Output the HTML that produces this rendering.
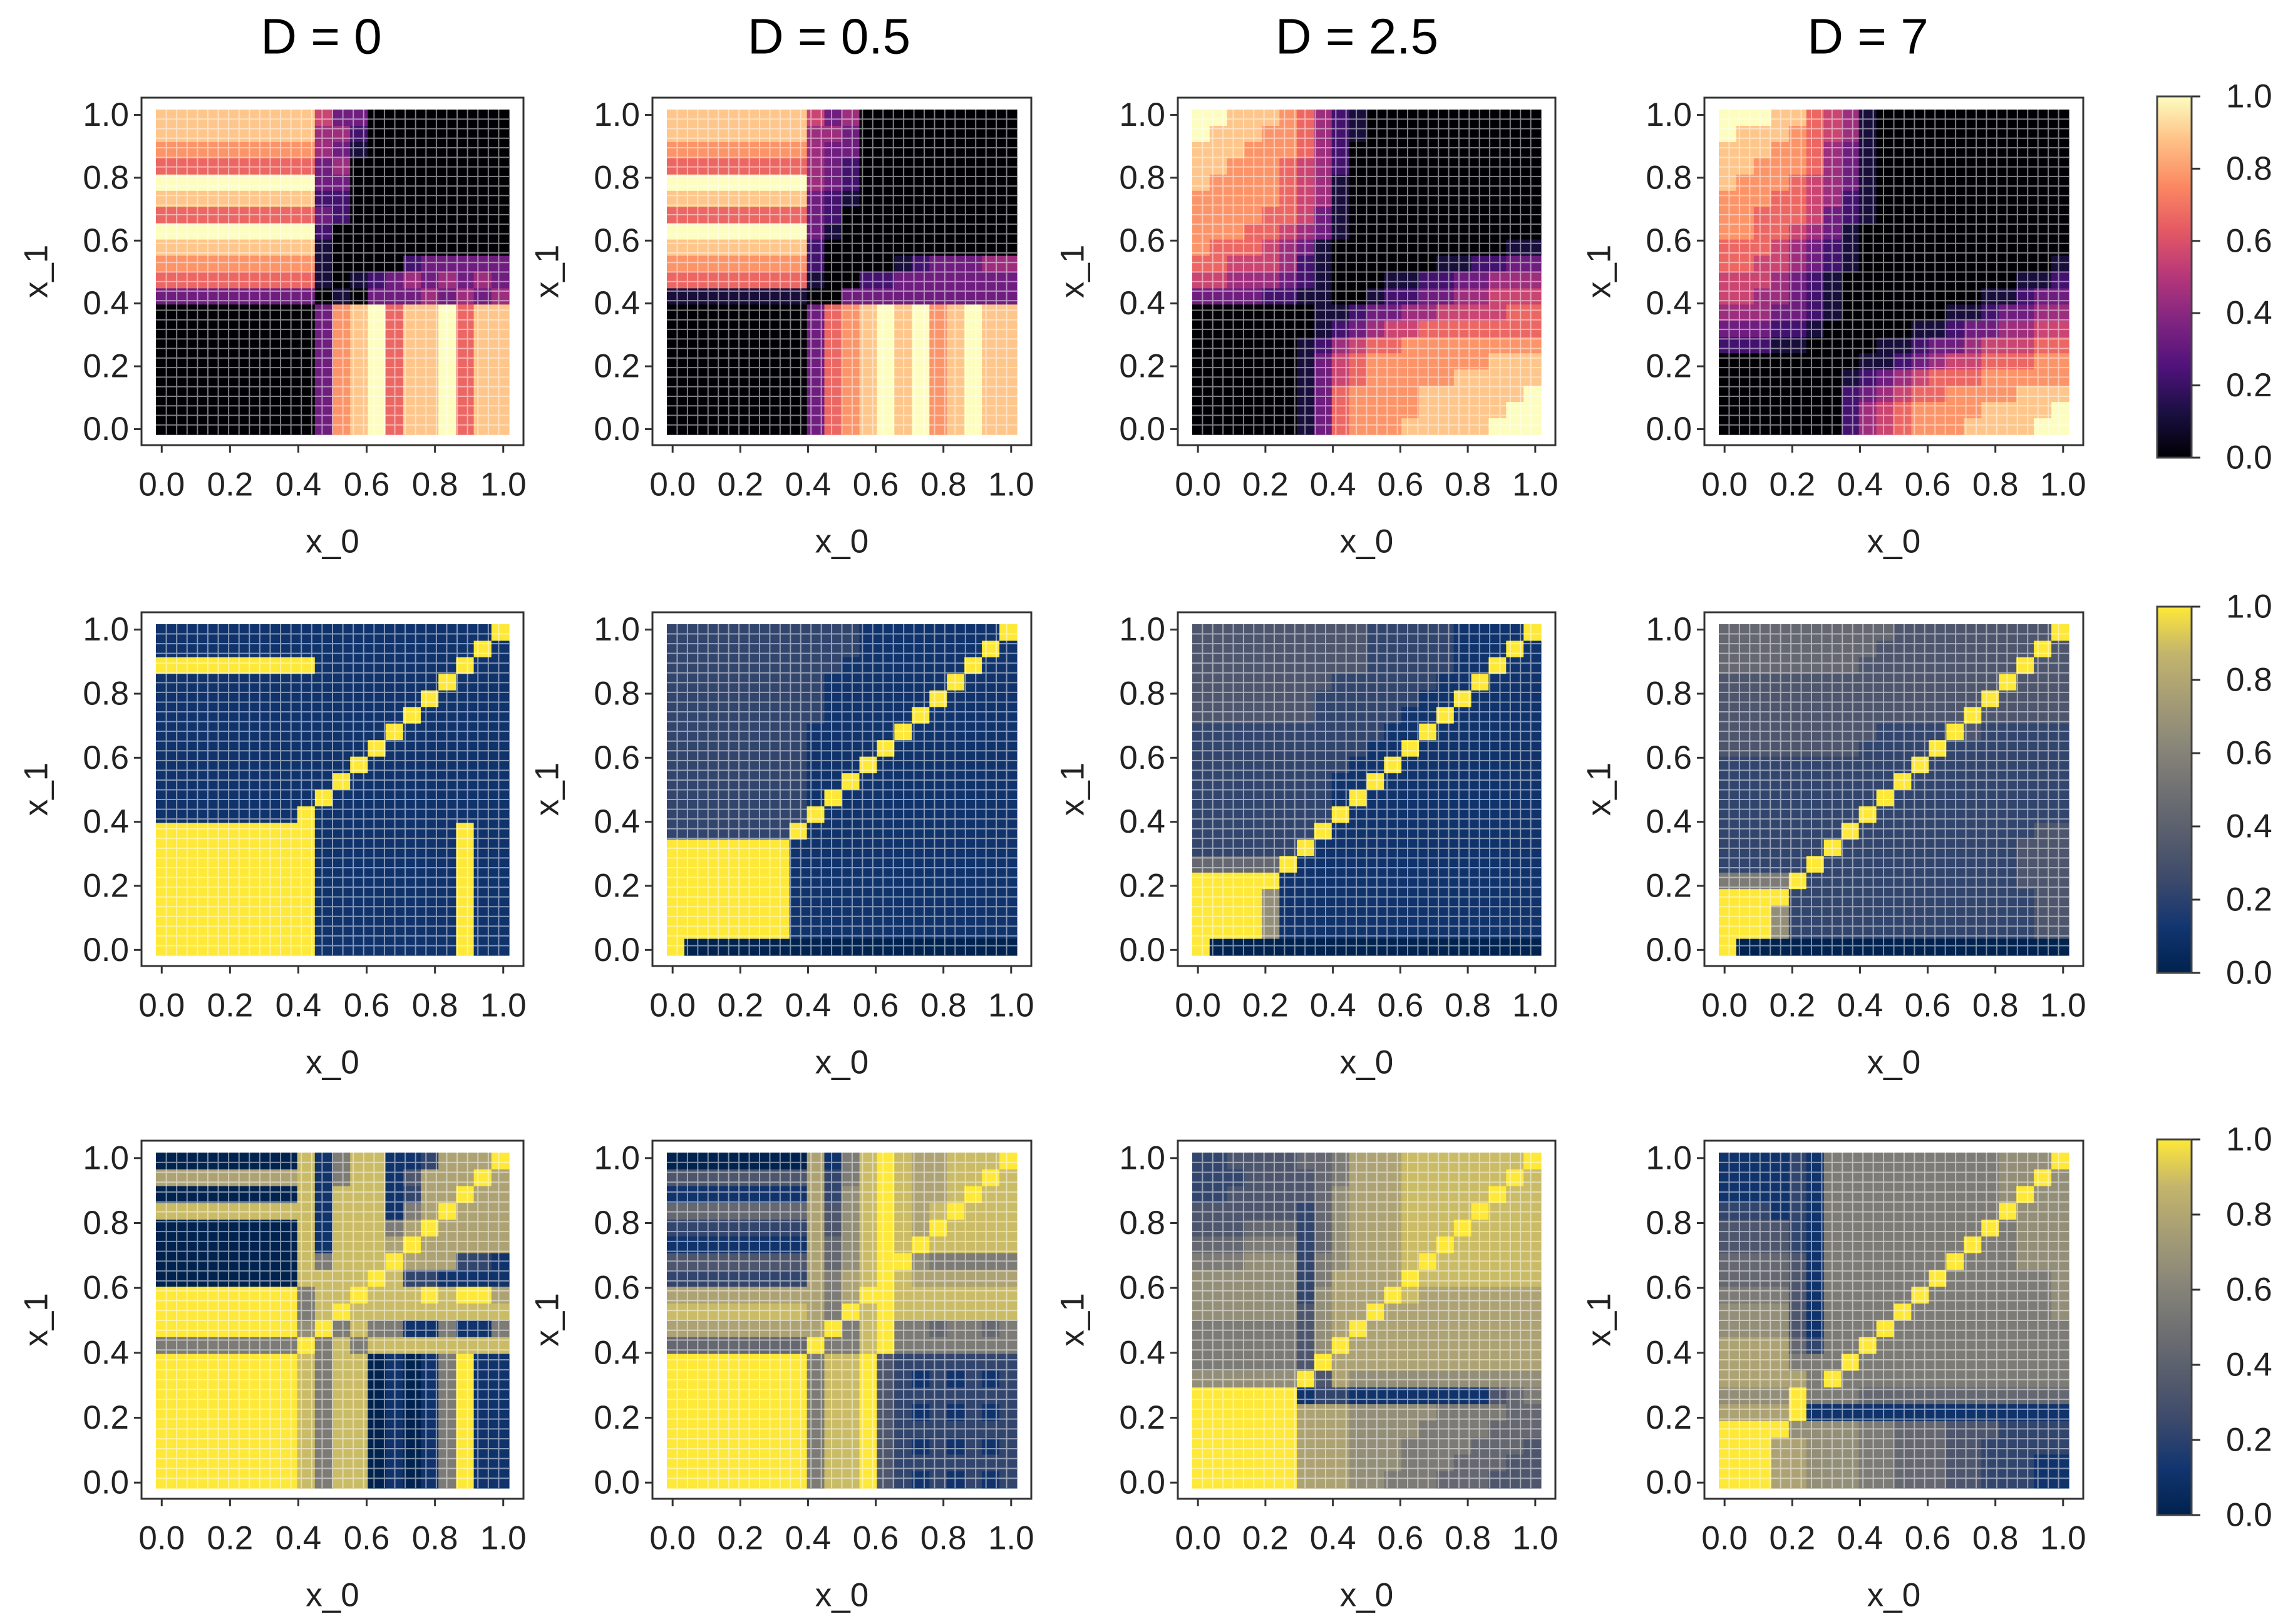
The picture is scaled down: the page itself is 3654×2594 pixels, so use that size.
<!DOCTYPE html>
<html>
<head>
<meta charset="utf-8">
<style>
html,body{margin:0;padding:0;background:#fff;}
svg{display:block;font-family:"Liberation Sans",Arial,sans-serif;}
</style>
</head>
<body>
<svg id="fig" xmlns="http://www.w3.org/2000/svg" width="3654" height="2594" viewBox="0 0 3654 2594">
<defs>
<linearGradient id="magmaGrad" x1="0" y1="1" x2="0" y2="0">
<stop offset="0" stop-color="#000004"/><stop offset="0.13" stop-color="#1c1044"/><stop offset="0.25" stop-color="#4f127b"/><stop offset="0.38" stop-color="#812581"/><stop offset="0.5" stop-color="#b5367a"/><stop offset="0.63" stop-color="#e55964"/><stop offset="0.75" stop-color="#fb8761"/><stop offset="0.88" stop-color="#fec287"/><stop offset="1" stop-color="#fcfdbf"/>
</linearGradient>
<linearGradient id="cividisGrad" x1="0" y1="1" x2="0" y2="0">
<stop offset="0" stop-color="#00224e"/><stop offset="0.125" stop-color="#123570"/><stop offset="0.25" stop-color="#3b496c"/><stop offset="0.375" stop-color="#575d6d"/><stop offset="0.5" stop-color="#707173"/><stop offset="0.625" stop-color="#8a8779"/><stop offset="0.75" stop-color="#a69d75"/><stop offset="0.875" stop-color="#c4b56c"/><stop offset="1" stop-color="#fee838"/>
</linearGradient>
</defs>
</svg>
<script>
// ---- data (rows top y=1 -> bottom y=0, digits 0..9 => value d/9) ----
const colTitles = ["D = 0", "D = 0.5", "D = 2.5", "D = 7"];
const tickValues = [0, 0.2, 0.4, 0.6, 0.8, 1.0];
const tickLabels = ["0.0", "0.2", "0.4", "0.6", "0.8", "1.0"];
const cbarTickValues = [0, 0.2, 0.4, 0.6, 0.8, 1.0];
const cbarTickLabels = ["0.0", "0.2", "0.4", "0.6", "0.8", "1.0"];

const magmaD0 = [
"88888888853300000000","88888888844200000000","77777777743100000000","66666666634000000000",
"99999999933000000000","88888888822000000000","66666666632000000000","99999999920000000000",
"88888888810000000000","77777777710000233333","66666666610123434343","33333333301033343434",
"00000000037896889688","00000000037896889688","00000000037896889688","00000000037896889688",
"00000000037896889688","00000000037896889688","00000000037896889688","00000000037896889688"];
const magmaD05 = [
"88888888534000000000","88888888443000000000","77777777433000000000","66666666432000000000",
"99999999432000000000","88888888321000000000","66666666320000000000","99999999310000000000",
"88888888200000000000","77777777200001233344","66666666100223333333","11111111003333333333",
"00000000367898978988","00000000367898978988","00000000367898978988","00000000367898978988",
"00000000367898978988","00000000367898978988","00000000367898978988","00000000367898978988"];
const magmaD25 = [
"99888764210000000000","98887764210000000000","88877764200000000000","88777654200000000000",
"87777654100000000000","77777654100000000000","77776653100000000000","77766543100000000000",
"76665431000000000011","66555421000000112233","55444321000112233444","33332211001223344555",
"00000001123344555566","00000001234556666666","00000012456677777777","00000013567777777888",
"00000013567777788888","00000013677778888889","00000013677778888899","00000013677788888999"];
const magmaD7 = [
"99988654100000000000","98887654100000000000","88877643100000000000","88777643100000000000",
"87776543100000000000","77766542100000000000","77666532100000000000","77665431000000000000",
"66654321000000000000","66554321000000000001","55543210000000000112","55443210000000011233",
"44433210000001123344","33322100000112334455","22211000011233455566","00000000112345566677",
"00000001234566677777","00000002345667777888","00000002456777788889","00000002456777888899"];

const simD0 = [
"11111111111111111119","11111111111111111191","99999999911111111911","11111111111111119111",
"11111111111111191111","11111111111111911111","11111111111119111111","11111111111191111111",
"11111111111911111111","11111111119111111111","11111111191111111111","11111111911111111111",
"99999999911111111911","99999999911111111911","99999999911111111911","99999999911111111911",
"99999999911111111911","99999999911111111911","99999999911111111911","99999999911111111911"];
const simD05 = [
"22222222222111111119","22222222222111111191","22222222221111111911","22222222211111119111",
"22222222211111191111","22222222211111911111","22222222111119111111","22222222111191111111",
"22222222111911111111","22222222119111111111","22222222191111111111","22222222911111111111",
"22222229111111111111","99999991111111111111","99999991111111111111","99999991111111111111",
"99999991111111111111","99999991111111111111","99999991111111111111","90000000000000000000"];
const simD25 = [
"33333333332222211119","33333333332222211191","33333333332222211911","33333333222222119111",
"33333332222221191111","33333332222211911111","22222222222119111111","22222222221191111111",
"22222222211911111111","22222222119111111111","22222222191111111111","22222222911111111111",
"22222229111111111111","22222291111111111111","44444911111111111111","99999111111111111111",
"99996111111111111111","99996111111111111111","99996111111111111111","90000000000000000000"];
const simD7 = [
"44444444443333333339","44444444433333333393","44444444333333333933","33333333333333339333",
"33333333333333393333","33333333333333933333","33333333322229322222","33333333222292222222",
"22222222222922222222","22222222229222222222","22222222292222222222","22222222922222222222",
"22222229222222222233","22222292222222222333","22222922222222222333","55559222222222222333",
"99992222222222222233","99962222222222222233","99962222222222222233","90000000000000000000"];

const corrD0 = [
"00000000815881127779","77777777815881377797","00000000818881277977","88888888818881579777",
"00000000818885797777","00000000818887977777","00000000858889777221","00000000888898221111",
"99999999588988898997","99999999589888888888","99999999695855115115","55555555958588888888",
"99999999858801015911","99999999858801015911","99999999858801015911","99999999858801015911",
"99999999858801015911","99999999858801015911","99999999858801015911","99999999858801015911"];
const corrD05 = [
"00000000715898778889","33333333725898778898","11111111726898778988","44444444736898789888",
"22222222736898798888","11111111746898988888","33333333746899655555","22222222757898777777",
"77777777757998888888","88888888759898888888","77777777795895545545","44444444955895555555",
"99999999588932222222","99999999588932121212","99999999588932222222","99999999588932121212",
"99999999588932222222","99999999588932121212","99999999588932222222","99999999588932121212"];
const corrD25 = [
"22333344577788888889","22233334577788888898","22333334677788888988","33333324677788889888",
"33344424677788898888","44455524677788988888","55566625677789888888","66666625777798888888",
"66666626777987777777","66666636779777777777","55555536797777777777","55555536977777777777",
"55555539777777777777","66666693766666666666","99999912211111111345","99999977766666555544",
"99999977766665555444","99999977766655554443","99999977766655544433","99999977766555444333"];
const corrD7 = [
"11112155555555556669","11112155555555556696","11112155555555556966","22212155555555559666",
"33332155555555595666","33332155555555955666","44443155555559555666","44443155555595555556",
"55553155555955555556","66663155559555555556","66663155595555555555","77774255955555555555",
"77775559555555555555","77777595555555555555","66669555444444444444","77779111111111111111",
"99996666554443332222","99977666554443322222","99977666554443322211","99977666554443322211"];

// ---- layout ----
const panelRows = [[magmaD0, magmaD05, magmaD25, magmaD7],[simD0, simD05, simD25, simD7],[corrD0, corrD05, corrD25, corrD7]];
const rowNames = ["output","similarity","correlation"];
const colKeys = ["d0","d0-5","d2-5","d7"];
const colX = [[249,813],[1065,1624],[1904,2461],[2745,3304]];
const rowY = [[175,694],[997,1526],[1841,2377]];
const titleX = [513,1324,2167,2983];
const cbarY = [[154,731],[969,1554],[1820,2420]];
const cbarX = [3445,3500];
const PAD = 0.017;

const magmaStops = [[0,[0,0,4]],[0.13,[28,16,68]],[0.25,[79,18,123]],[0.38,[129,37,129]],[0.5,[181,54,122]],[0.63,[229,89,100]],[0.75,[251,135,97]],[0.88,[254,194,135]],[1,[252,253,191]]];
const cividisStops = [[0,[0,34,78]],[0.125,[18,53,112]],[0.25,[59,73,108]],[0.375,[87,93,109]],[0.5,[112,113,115]],[0.625,[138,135,121]],[0.75,[166,157,117]],[0.875,[196,181,108]],[1,[254,232,56]]];

function cmap(stops, v){
  v = Math.max(0, Math.min(1, v));
  for (let i = 1; i < stops.length; i++){
    if (v <= stops[i][0]){
      const a = stops[i-1], b = stops[i];
      const t = (v - a[0]) / (b[0] - a[0]);
      const c = a[1].map((x, k) => Math.round(x + (b[1][k] - x) * t));
      return "rgb(" + c.join(",") + ")";
    }
  }
  return "rgb(" + stops[stops.length-1][1].join(",") + ")";
}

const NS = "http://www.w3.org/2000/svg";
const svg = document.getElementById("fig");
function mk(tag, attrs, parent){
  const e = document.createElementNS(NS, tag);
  for (const k in attrs) e.setAttribute(k, attrs[k]);
  (parent || svg).appendChild(e);
  return e;
}
const FS = 53;

colTitles.forEach((t, i) => {
  const el = mk("text", {x: titleX[i], y: 58, "font-size": 80, "text-anchor": "middle", "dominant-baseline": "central", fill: "#000"});
  el.textContent = t;
  
  
});

panelRows.forEach((row, ri) => {
  row.forEach((data, ci) => {
    const g = mk("g", {});
    
    
    const [L, R] = colX[ci], [T, B] = rowY[ri];
    const W = R - L, H = B - T;
    const xScale = v => L + (v + PAD) / (1 + 2 * PAD) * W;
    const yScale = v => B - (v + PAD) / (1 + 2 * PAD) * H;
    const stops = ri === 0 ? magmaStops : cividisStops;
    const nR = data.length, nC = data[0].length;
    const step = (1 + 2 * PAD);
    const hm = mk("g", {}, g);
    
    
    for (let r = 0; r < nR; r++){
      for (let c = 0; c < nC; c++){
        const v = parseInt(data[r][c], 10) / 9;
        const x0 = xScale(-PAD + c * step / nC), x1 = xScale(-PAD + (c + 1) * step / nC);
        const yTop = yScale(1 + PAD - r * step / nR), yBot = yScale(1 + PAD - (r + 1) * step / nR);
        const cell = mk("rect", {x: x0.toFixed(1), y: yTop.toFixed(1), width: (x1 - x0 + 0.6).toFixed(1), height: (yBot - yTop + 0.6).toFixed(1), fill: cmap(stops, v)}, hm);
        
        
      }
    }
    const gl = mk("g", {stroke: "#fff", "stroke-width": 2, opacity: 0.5}, g);
    
    
    const NG = 34;
    for (let k = 1; k < NG; k++){
      const x = L + k * W / NG, y = T + k * H / NG;
      mk("line", {x1: x, y1: T, x2: x, y2: B}, gl);
      mk("line", {x1: L, y1: y, x2: R, y2: y}, gl);
    }
    const fL = L - 23, fR = R + 23, fT = T - 19, fB = B + 17;
    const frame = mk("rect", {x: fL, y: fT, width: fR - fL, height: fB - fT, fill: "none", stroke: "#333", "stroke-width": 3}, g);
    
    
    tickValues.forEach((tv, k) => {
      const x = xScale(tv);
      const tk = mk("line", {x1: x, y1: fB, x2: x, y2: fB + 12, stroke: "#333", "stroke-width": 3}, g);
      
      
      const lb = mk("text", {x: x, y: fB + 63, "font-size": FS, "text-anchor": "middle", "dominant-baseline": "central", fill: "#222"}, g);
      lb.textContent = tickLabels[k];
      
      
    });
    tickValues.forEach((tv, k) => {
      const y = yScale(tv);
      const tk = mk("line", {x1: fL - 12, y1: y, x2: fL, y2: y, stroke: "#333", "stroke-width": 3}, g);
      
      
      const lb = mk("text", {x: fL - 20, y: y, "font-size": FS, "text-anchor": "end", "dominant-baseline": "central", fill: "#222"}, g);
      lb.textContent = tickLabels[k];
      
      
    });
    const xt = mk("text", {x: (fL + fR) / 2, y: fB + 154, "font-size": FS, "text-anchor": "middle", "dominant-baseline": "central", fill: "#222"}, g);
    xt.textContent = "x_0";
    
    
    const yx = fL - 168, yy = (fT + fB) / 2;
    const yt = mk("text", {x: yx, y: yy, "font-size": FS, "text-anchor": "middle", "dominant-baseline": "central", fill: "#222", transform: "rotate(-90 " + yx + " " + yy + ")"}, g);
    yt.textContent = "x_1";
    
    
  });
});

cbarY.forEach((yr, i) => {
  const g = mk("g", {});
  
  
  const [T, B] = yr;
  const bar = mk("rect", {x: cbarX[0], y: T, width: cbarX[1] - cbarX[0], height: B - T, fill: i === 0 ? "url(#magmaGrad)" : "url(#cividisGrad)", stroke: "#444", "stroke-width": 3}, g);
  
  
  const cy = v => B - v * (B - T);
  cbarTickValues.forEach((tv, k) => {
    const y = cy(tv);
    const tk = mk("line", {x1: cbarX[1], y1: y, x2: cbarX[1] + 14, y2: y, stroke: "#333", "stroke-width": 3}, g);
    
    
    const lb = mk("text", {x: 3555, y: y, "font-size": FS, "text-anchor": "start", "dominant-baseline": "central", fill: "#222"}, g);
    lb.textContent = cbarTickLabels[k];
    
    
  });
});
</script>
</body>
</html>
